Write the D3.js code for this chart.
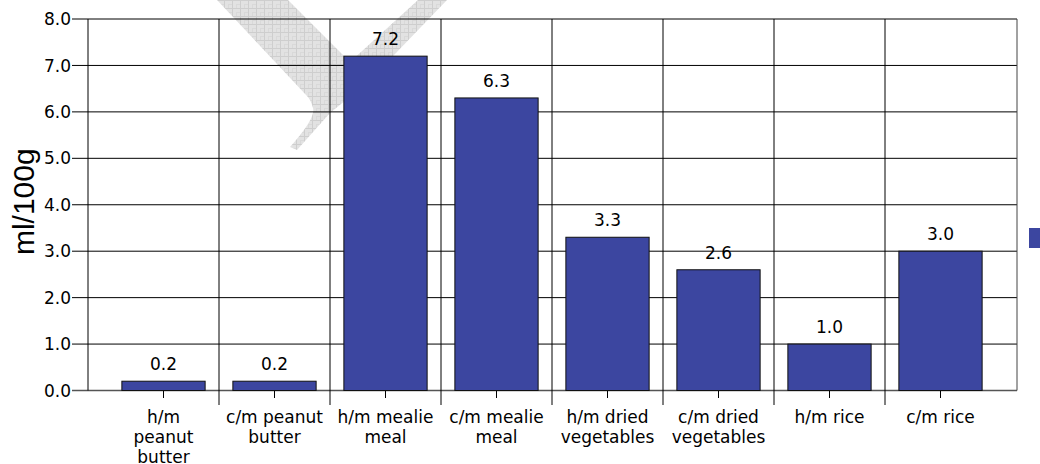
<!DOCTYPE html>
<html>
<head>
<meta charset="utf-8">
<script src="https://cdn.jsdelivr.net/npm/d3@7"></script>
<style>
  html, body { margin: 0; padding: 0; background: #fff; }
  svg { display: block; }
</style>
</head>
<body>
<svg id="chart" width="1040" height="464"></svg>
<script>
// Categories (label lines) and values in ml/100g
const categories = [
  "h/m peanut butter", "c/m peanut butter", "h/m mealie meal", "c/m mealie meal",
  "h/m dried vegetables", "c/m dried vegetables", "h/m rice", "c/m rice"
];
const categoryLines = [
  ["h/m", "peanut", "butter"],
  ["c/m peanut", "butter"],
  ["h/m mealie", "meal"],
  ["c/m mealie", "meal"],
  ["h/m dried", "vegetables"],
  ["c/m dried", "vegetables"],
  ["h/m rice"],
  ["c/m rice"]
];
const values = [0.2, 0.2, 7.2, 6.3, 3.3, 2.6, 1.0, 3.0];
const yTicks = [0, 1, 2, 3, 4, 5, 6, 7, 8];
const yTitle = "ml/100g";

const svg = d3.select("#chart");
const font = "'DejaVu Sans', Verdana, sans-serif";
const barColor = "#3c46a0";

const frame = { left: 88, right: 1017, top: 19, bottom: 390.5 };

const x = d3.scaleBand()
  .domain(categories)
  .range([108, 996])
  .paddingInner(0.25)
  .paddingOuter(0.125);

const y = d3.scaleLinear().domain([0, 8]).range([frame.bottom, frame.top]);

// Light hatched ribbon shape in the background
const defs = svg.append("defs");
const pat = defs.append("pattern")
  .attr("id", "hatch").attr("patternUnits", "userSpaceOnUse")
  .attr("width", 8).attr("height", 8);
pat.append("rect").attr("width", 8).attr("height", 8).attr("fill", "#e2e2e2");
pat.append("path").attr("d", "M0 0.5H8M0.5 0V8").attr("stroke", "#cecece").attr("stroke-width", 1);
pat.append("path").attr("d", "M4 4.5H8M4.5 4V8").attr("stroke", "#d9d9d9").attr("stroke-width", 1);

svg.append("path")
  .attr("d", "M217,0 L288,0 L350,62 L418,0 L447,0 L368,82 L330,113 L297,150 L290,147 Q316,118 313,108 Q311,100 307,96 Z")
  .attr("fill", "url(#hatch)");

// Horizontal gridlines with outer ticks
const grid = svg.append("g");
grid.selectAll("line.h")
  .data(yTicks)
  .join("line")
  .attr("x1", 72).attr("x2", frame.right)
  .attr("y1", d => y(d)).attr("y2", d => y(d))
  .attr("stroke", d => d === 0 ? "#555" : "#000")
  .attr("stroke-width", d => d === 0 ? 1.5 : 1);

// Frame verticals
grid.append("line")
  .attr("x1", frame.left).attr("x2", frame.left)
  .attr("y1", frame.top).attr("y2", frame.bottom)
  .attr("stroke", "#000");
grid.append("line")
  .attr("x1", frame.right).attr("x2", frame.right)
  .attr("y1", frame.top).attr("y2", frame.bottom)
  .attr("stroke", "#444");

// Category boundary lines extending below the axis
const step = x.step();
const boundaries = categories.slice(1).map(c => x(c) - step * x.paddingInner() / 2);
grid.selectAll("line.v")
  .data(boundaries)
  .join("line")
  .attr("x1", d => d).attr("x2", d => d)
  .attr("y1", frame.top).attr("y2", 405)
  .attr("stroke", "#000");

// Short ticks at category centres
grid.selectAll("line.t")
  .data(categories)
  .join("line")
  .attr("x1", d => x(d) + x.bandwidth() / 2).attr("x2", d => x(d) + x.bandwidth() / 2)
  .attr("y1", frame.bottom).attr("y2", 398)
  .attr("stroke", "#000");

// Y tick labels
svg.append("g").selectAll("text")
  .data(yTicks)
  .join("text")
  .attr("x", 71).attr("y", d => y(d))
  .attr("dy", "0.36em")
  .attr("text-anchor", "end")
  .attr("font-family", font).attr("font-size", 17)
  .attr("fill", "#000")
  .text(d3.format(".1f"));

// Y axis title
svg.append("text")
  .attr("transform", `translate(34,${(frame.top + frame.bottom) / 2 - 3}) rotate(-90)`)
  .attr("text-anchor", "middle")
  .attr("font-family", "'Liberation Sans', Arial, sans-serif")
  .attr("font-size", 30)
  .attr("fill", "#000")
  .text(yTitle);

// Bars
svg.append("g").selectAll("rect")
  .data(values)
  .join("rect")
  .attr("x", (d, i) => x(categories[i]))
  .attr("y", d => y(d))
  .attr("width", x.bandwidth())
  .attr("height", d => y(0) - y(d))
  .attr("fill", barColor)
  .attr("stroke", "#111")
  .attr("stroke-width", 1);

// Value labels
svg.append("g").selectAll("text")
  .data(values)
  .join("text")
  .attr("x", (d, i) => x(categories[i]) + x.bandwidth() / 2)
  .attr("y", d => y(d) - 11)
  .attr("text-anchor", "middle")
  .attr("font-family", font).attr("font-size", 17)
  .attr("fill", "#000")
  .text(d3.format(".1f"));

// Category labels
const cat = svg.append("g").selectAll("text")
  .data(categoryLines)
  .join("text")
  .attr("x", (d, i) => x(categories[i]) + x.bandwidth() / 2)
  .attr("y", 423)
  .attr("text-anchor", "middle")
  .attr("font-family", font).attr("font-size", 17)
  .attr("fill", "#000");
cat.selectAll("tspan")
  .data(d => d)
  .join("tspan")
  .attr("x", function () { return d3.select(this.parentNode).attr("x"); })
  .attr("dy", (d, i) => i === 0 ? 0 : 20)
  .text(d => d);

// Legend swatch at the right edge
svg.append("rect")
  .attr("x", 1029).attr("y", 228)
  .attr("width", 20).attr("height", 20)
  .attr("fill", barColor);
</script>
</body>
</html>
